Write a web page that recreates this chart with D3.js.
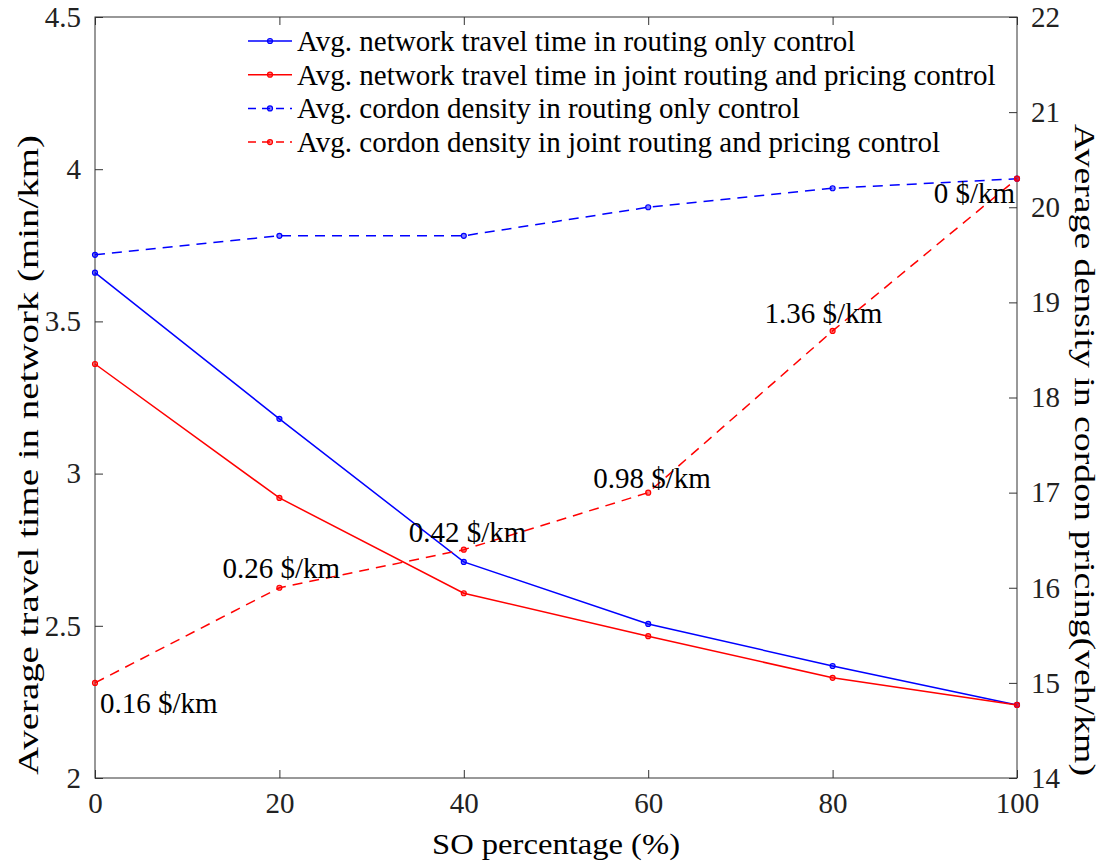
<!DOCTYPE html>
<html>
<head>
	<title>SO percentage chart</title>
</head>
<style type="text/css">
	html, body {margin:0px; padding:0px; background:#fff;}
	svg {font-family: "Liberation Serif", "Times New Roman", serif;}
</style>
<body>

	<svg width="1104" height="863"></svg>

<script src="https://d3js.org/d3.v7.min.js"></script>
<script type="text/javascript">

	// data
	const soPct = [0, 20, 40, 60, 80, 100];
	const timeRouting = [3.66, 3.18, 2.71, 2.506, 2.368, 2.24];
	const timeJoint = [3.36, 2.92, 2.607, 2.466, 2.329, 2.24];
	const densRouting = [19.5, 19.7, 19.7, 20.0, 20.2, 20.3];
	const densJoint = [15.0, 16.0, 16.4, 17.0, 18.7, 20.3];
	const priceLabels = ['0.16 $/km', '0.26 $/km', '0.42 $/km', '0.98 $/km', '1.36 $/km', '0 $/km'];
	const leftTicks = [2, 2.5, 3, 3.5, 4, 4.5];
	const rightTicks = [14, 15, 16, 17, 18, 19, 20, 21, 22];

	const svg = d3.select('svg');
	const m = {left: 95, right: 1017, top: 17, bottom: 778};

	let x = d3.scaleLinear().domain([0, 100]).range([m.left, m.right]);
	let yL = d3.scaleLinear().domain([2, 4.5]).range([m.bottom, m.top]);
	let yR = d3.scaleLinear().domain([14, 22]).range([m.bottom, m.top]);

	// axes, ticks pointing inwards
	function styleAxis(g) {
		g.select('.domain').remove();
		g.selectAll('line').attr('stroke', '#333').attr('stroke-width', 1);
		g.selectAll('text').attr('fill', '#222').attr('font-size', 29).attr('font-family', 'Liberation Serif');
	}

	svg.append('g')
		.attr('transform', 'translate(0,' + m.bottom + ')')
		.call(d3.axisBottom(x).tickValues(soPct).tickSize(-8).tickPadding(14))
		.call(styleAxis);
	svg.append('g')
		.attr('transform', 'translate(0,' + m.top + ')')
		.call(d3.axisTop(x).tickValues(soPct).tickSize(-8).tickFormat(''))
		.call(styleAxis);
	svg.append('g')
		.attr('transform', 'translate(' + m.left + ',0)')
		.call(d3.axisLeft(yL).tickValues(leftTicks).tickSize(-8).tickPadding(14).tickFormat(d3.format('')))
		.call(styleAxis);
	svg.append('g')
		.attr('transform', 'translate(' + m.right + ',0)')
		.call(d3.axisRight(yR).tickValues(rightTicks).tickSize(-8).tickPadding(14))
		.call(styleAxis);

	// box
	svg.append('rect')
		.attr('x', m.left).attr('y', m.top)
		.attr('width', m.right - m.left).attr('height', m.bottom - m.top)
		.attr('fill', 'none').attr('stroke', '#333').attr('stroke-width', 1);

	const series = [
		{vals: timeRouting, y: yL, col: '#0000ff', dash: null, name: 'Avg. network travel time in routing only control'},
		{vals: timeJoint, y: yL, col: '#ff0000', dash: null, name: 'Avg. network travel time in joint routing and pricing control'},
		{vals: densRouting, y: yR, col: '#0000ff', dash: '10,7', name: 'Avg. cordon density in routing only control'},
		{vals: densJoint, y: yR, col: '#ff0000', dash: '10,7', name: 'Avg. cordon density in joint routing and pricing control'}
	];

	series.forEach(function(s) {
		let line = d3.line()
			.x(function(d, i) { return x(soPct[i]); })
			.y(function(d) { return s.y(d); });
		svg.append('path')
			.datum(s.vals)
			.attr('d', line)
			.attr('fill', 'none')
			.attr('stroke', s.col)
			.attr('stroke-width', 1.5)
			.attr('stroke-dasharray', s.dash);
		svg.append('g').selectAll('circle')
			.data(s.vals)
			.enter().append('circle')
			.attr('cx', function(d, i) { return x(soPct[i]); })
			.attr('cy', function(d) { return s.y(d); })
			.attr('r', 2.5)
			.attr('fill', s.col)
			.attr('fill-opacity', 0.5)
			.attr('stroke', s.col)
			.attr('stroke-width', 1.2);
	});

	// price labels next to the joint density points
	const labOff = [[5, 30], [-57, -10], [-55, -8], [-55, -5], [-68, -8], [-2, 24]];
	svg.append('g').selectAll('text')
		.data(priceLabels)
		.enter().append('text')
		.attr('x', function(d, i) { return x(soPct[i]) + labOff[i][0]; })
		.attr('y', function(d, i) { return yR(densJoint[i]) + labOff[i][1]; })
		.attr('text-anchor', function(d, i) { return i === 5 ? 'end' : 'start'; })
		.attr('font-size', 29)
		.attr('fill', '#000')
		.text(function(d) { return d; });

	// legend
	const leg = svg.append('g');
	series.forEach(function(s, i) {
		let ly = 41 + i * 33.7;
		leg.append('line')
			.attr('x1', 248).attr('x2', 292).attr('y1', ly).attr('y2', ly)
			.attr('stroke', s.col).attr('stroke-width', 1.5)
			.attr('stroke-dasharray', s.dash ? '8,6' : null);
		leg.append('circle')
			.attr('cx', 270).attr('cy', ly).attr('r', 2.5)
			.attr('fill', s.col).attr('fill-opacity', 0.5)
			.attr('stroke', s.col).attr('stroke-width', 1.2);
		leg.append('text')
			.attr('x', 297).attr('y', ly + 10)
			.attr('font-size', 29)
			.attr('fill', '#000')
			.text(s.name);
	});

	// axis titles (stretched like the reference)
	svg.append('text')
		.attr('x', (m.left + m.right) / 2).attr('y', 854)
		.attr('text-anchor', 'middle').attr('font-size', 30)
		.attr('textLength', 248).attr('lengthAdjust', 'spacingAndGlyphs')
		.text('SO percentage (%)');
	svg.append('text')
		.attr('transform', 'translate(38,455) rotate(-90)')
		.attr('text-anchor', 'middle').attr('font-size', 30)
		.attr('textLength', 640).attr('lengthAdjust', 'spacingAndGlyphs')
		.text('Average travel time in network (min/km)');
	svg.append('text')
		.attr('transform', 'translate(1075,450) rotate(90)')
		.attr('text-anchor', 'middle').attr('font-size', 30)
		.attr('textLength', 652).attr('lengthAdjust', 'spacingAndGlyphs')
		.text('Average density in cordon pricing(veh/km)');

</script>
</body>
</html>
